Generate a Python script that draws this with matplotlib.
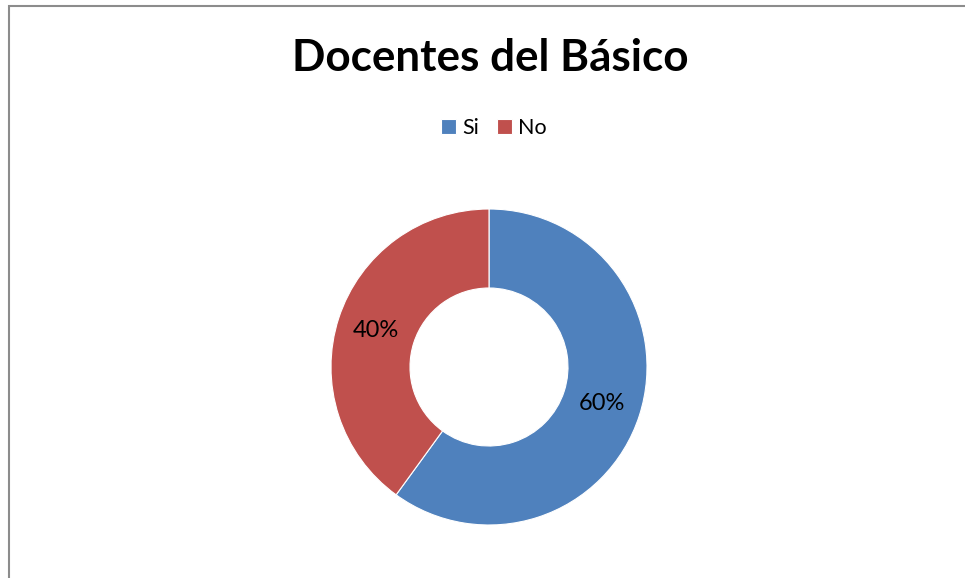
import numpy as np
import matplotlib.pyplot as plt
from matplotlib.patches import Rectangle

labels = ['Si', 'No']
values = [60, 40]
colors = ['#4F81BD', '#C0504D']

plt.rcParams['font.family'] = ['Lato', 'DejaVu Sans']

fig = plt.figure(figsize=(9.65, 5.78), dpi=100)

# chart border (left + top visible, rest clipped off)
fig.patches.append(Rectangle((9 / 965, -0.1), 2.0, 1.1 - 6 / 578, transform=fig.transFigure,
                             fill=False, edgecolor='#8c8c8c', linewidth=1.5))

fig.text(490 / 965, 1 - 58 / 578, 'Docentes del Básico', ha='center', va='center',
         fontsize=31.7, fontweight='bold')

r = 158
cx, cy = 489, 367
ax = fig.add_axes([(cx - r) / 965, 1 - (cy + r) / 578, 2 * r / 965, 2 * r / 578])
wedges, _ = ax.pie(values, colors=colors, startangle=90, counterclock=False,
                   radius=1.0, wedgeprops=dict(width=0.5, edgecolor='white', linewidth=0.8))
start = 90
for v in values:
    mid = np.deg2rad(start - v * 3.6 / 2)
    ax.text(0.75 * np.cos(mid), 0.75 * np.sin(mid), f'{v}%', ha='center', va='center', fontsize=17)
    start -= v * 3.6
ax.set_xlim(-1, 1)
ax.set_ylim(-1, 1)
ax.set_aspect('equal')
ax.axis('off')

fig.legend(wedges, labels, loc='center', bbox_to_anchor=(494 / 965, 1 - 128 / 578), ncol=2,
           frameon=False, fontsize=15.5, handlelength=0.7, handleheight=0.7,
           handletextpad=0.3, columnspacing=0.8)

fig.savefig('out.png', dpi=100)
